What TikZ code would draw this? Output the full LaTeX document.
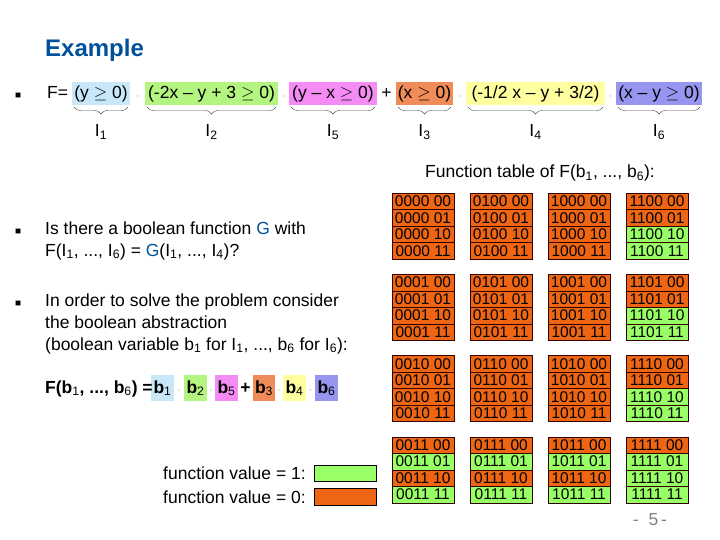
\documentclass[tikz,border=0pt]{standalone}
\usepackage{fontspec}
\setmainfont{Liberation Sans}
\usetikzlibrary{decorations.pathreplacing}
\definecolor{titleblue}{RGB}{0,80,155}
\definecolor{cblue}{RGB}{200,232,250}
\definecolor{cgreen}{RGB}{180,245,130}
\definecolor{cpink}{RGB}{245,140,245}
\definecolor{corange}{RGB}{240,140,90}
\definecolor{cyellow}{RGB}{255,255,160}
\definecolor{cpurple}{RGB}{150,150,240}
\definecolor{tgreen}{RGB}{153,255,102}
\definecolor{torange}{RGB}{238,102,20}
\begin{document}
\begin{tikzpicture}[x=1pt,y=-1pt,
  txt/.style={anchor=base west,inner sep=0pt,font=\fontsize{17.5}{20}\selectfont},
  brc/.style={decorate,decoration={brace,mirror,amplitude=7pt},thin,draw=black!70},
  lab/.style={anchor=base,inner sep=0pt,font=\fontsize{17.5}{20}\selectfont},
  cell/.style={draw=black!80!red,inner sep=0pt,minimum width=62pt,minimum height=16.5pt,font=\fontsize{15.5}{15.5}\selectfont},
  dotc/.style={inner sep=0pt,font=\fontsize{8}{8}\selectfont}]
\useasboundingbox (0,0) rectangle (720,540);
\node[anchor=base west,inner sep=0pt,font=\fontsize{24}{28}\selectfont\bfseries,text=titleblue] (title) at (45,57) {Example};
% formula
\node[txt] (b0) at (15,99) {\fontsize{10}{10}\selectfont■};
\node[txt] (F) at (47,99) {F=};
\fill[cblue] (72,82) rectangle (130,105);
\fill[cgreen] (145,82) rectangle (278,105);
\fill[cpink] (289,82) rectangle (377,105);
\fill[corange] (396,82) rectangle (453,105);
\fill[cyellow] (466,82) rectangle (605,105);
\fill[cpurple] (616,82) rectangle (702,105);
\node[lab] (t1) at (101,99) {(y $\geq$ 0)};
\node[lab] (t2) at (211.5,99) {(-2x -- y + 3 $\geq$ 0)};
\node[lab] (t5) at (333,99) {(y -- x $\geq$ 0)};
\node[lab] (plus) at (386.5,99) {+};
\node[lab] (t3) at (424.5,99) {(x $\geq$ 0)};
\node[lab] (t4) at (535.5,99) {(-1/2 x -- y + 3/2)};
\node[lab] (t6) at (659,99) {(x -- y $\geq$ 0)};
\foreach \x/\n in {137.5/d1,283.5/d2,459.5/d3,610.5/d4}
  \node[dotc] (\n) at (\x,97) {$\cdot$};
\foreach \a/\b/\m/\l in {74/128/101/1,147/276/211.5/2,291/375/333/5,398/451/424.5/3,468/603/535.5/4,618/700/659/6}{
  \draw[brc] (\a,107) -- (\b,107);
  \node[lab] (l\l) at (\m,137) {I\textsubscript{\l}};}
% function table caption
\node[lab] (cap) at (540,178) {Function table of F(b\textsubscript{1}, ..., b\textsubscript{6}):};
% left texts
\node[txt] (bul1) at (15,234) {\fontsize{10}{10}\selectfont■};
\node[txt] (q1) at (45,234) {Is there a boolean function \textcolor{titleblue}{G} with};
\node[txt] (q2) at (45,256) {F(I\textsubscript{1}, ..., I\textsubscript{6}) = \textcolor{titleblue}{G}(I\textsubscript{1}, ..., I\textsubscript{4})?};
\node[txt] (bul2) at (15,306) {\fontsize{10}{10}\selectfont■};
\node[txt] (r1) at (45,306) {In order to solve the problem consider};
\node[txt] (r2) at (45,328) {the boolean abstraction};
\node[txt] (r3) at (45,350) {(boolean variable b\textsubscript{1} for I\textsubscript{1}, ..., b\textsubscript{6} for I\textsubscript{6}):};
% F(b) line
\fill[cblue] (151,375) rectangle (174,401);
\fill[cgreen] (184,375) rectangle (207,401);
\fill[cpink] (215,375) rectangle (238,401);
\fill[corange] (253,375) rectangle (275,401);
\fill[cyellow] (283,375) rectangle (306,401);
\fill[cpurple] (315,375) rectangle (338,401);
\node[txt,font=\fontsize{17.5}{20}\selectfont\bfseries] (fb) at (45,393) {F(b\textsubscript{\mdseries 1}, ..., b\textsubscript{\mdseries 6}) =};
\foreach \x/\i in {162.5/1,195.5/2,226.5/5,264/3,294.5/4,326.5/6}
  \node[lab] (bb\i) at (\x,393) {\textbf{b}\textsubscript{\i}};
\node[lab,font=\fontsize{17.5}{20}\selectfont\bfseries] (pl2) at (245.5,393) {+};
\foreach \x/\n in {179/e1,211/e2,279/e3,310.5/e4}
  \node[dotc] (\n) at (\x,391) {$\cdot$};
% legend
\node[txt] (lg1) at (163,479) {function value = 1:};
\node[txt] (lg0) at (163,503) {function value = 0:};
\draw[fill=tgreen] (314,465) rectangle (376,481);
\draw[fill=torange] (314,488) rectangle (376,505);
% table
\foreach \c/\ca/\cb in {0/0/0,1/0/1,2/1/0,3/1/1}{
  \foreach \r/\ra/\rb in {0/0/0,1/0/1,2/1/0,3/1/1}{
    \foreach \k/\ka/\kb in {0/0/0,1/0/1,2/1/0,3/1/1}{
      \pgfmathtruncatemacro{\val}{(\ca*\cb*\ka)+(\ra*\rb*\kb)}
      \ifnum\val>0 \def\fc{tgreen}\else\def\fc{torange}\fi
      \node[cell,fill=\fc] (c\c\r\k) at ({423+78*\c},{201.25+81.3*\r+16.5*\k}) {\ca\cb\ra\rb\ \ka\kb};
    }}}
\node[lab,text=gray] (pg) at (650,525) {-\ \ 5\,-};
\end{tikzpicture}
\end{document}
